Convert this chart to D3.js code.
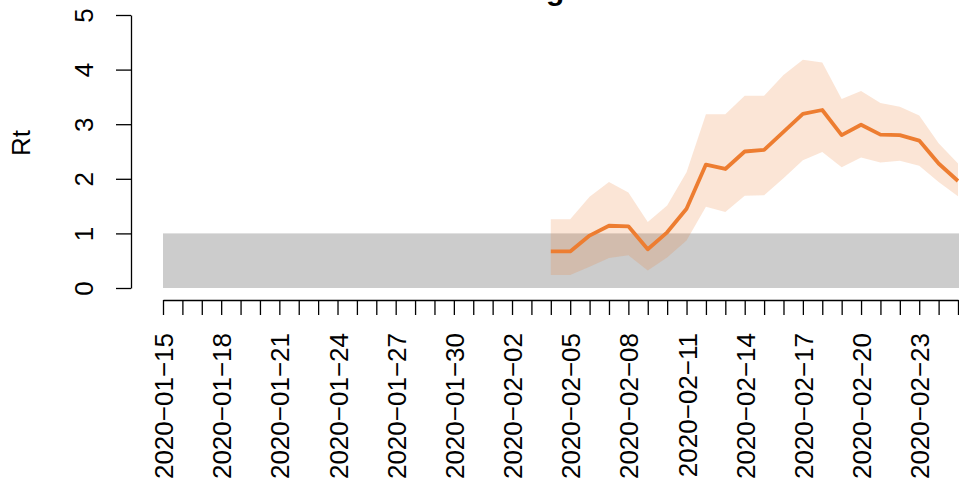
<!DOCTYPE html>
<html>
<head>
<meta charset="utf-8">
<script src="https://cdn.jsdelivr.net/npm/d3@7"></script>
<style>
  html, body { margin: 0; padding: 0; background: #fff; }
  svg { display: block; font-family: "Liberation Sans", Arial, sans-serif; }
</style>
</head>
<body>
<div id="chart"></div>
<script>
// data
var title = "Bergamo";
var yLabel = "Rt";
var xStart = "2020-01-15";
var xEnd = "2020-02-25";
var tickLabels = ["2020-01-15", "2020-01-18", "2020-01-21", "2020-01-24", "2020-01-27",
    "2020-01-30", "2020-02-02", "2020-02-05", "2020-02-08", "2020-02-11",
    "2020-02-14", "2020-02-17", "2020-02-20", "2020-02-23"];
var yTicks = [0, 1, 2, 3, 4, 5];
var threshold = [0, 1];

var rtDates = ["2020-02-04", "2020-02-05", "2020-02-06", "2020-02-07", "2020-02-08",
    "2020-02-09", "2020-02-10", "2020-02-11", "2020-02-12", "2020-02-13",
    "2020-02-14", "2020-02-15", "2020-02-16", "2020-02-17", "2020-02-18",
    "2020-02-19", "2020-02-20", "2020-02-21", "2020-02-22", "2020-02-23",
    "2020-02-24", "2020-02-25"];
var rtMean = [0.67, 0.67, 0.96, 1.14, 1.13, 0.71, 1.02, 1.45, 2.26, 2.18, 2.50,
    2.53, 2.86, 3.19, 3.26, 2.80, 2.99, 2.81, 2.80, 2.70, 2.28, 1.96];
var rtUpper = [1.26, 1.26, 1.67, 1.94, 1.75, 1.21, 1.51, 2.12, 3.18, 3.18, 3.52,
    3.52, 3.90, 4.18, 4.13, 3.46, 3.61, 3.39, 3.32, 3.16, 2.65, 2.28];
var rtLower = [0.24, 0.24, 0.39, 0.55, 0.60, 0.32, 0.56, 0.87, 1.49, 1.39, 1.69,
    1.70, 2.01, 2.34, 2.49, 2.21, 2.39, 2.30, 2.33, 2.24, 1.94, 1.68];

var width = 959, height = 485;
var parse = d3.utcParse("%Y-%m-%d");
var fmt = d3.utcFormat("%Y-%m-%d");
var orange = "#ED7D31";
var fontSize = 26;

var svg = d3.select("#chart")
    .append("svg")
    .attr("width", width)
    .attr("height", height);

var x = d3.scaleUtc()
    .domain([parse(xStart), parse(xEnd)])
    .range([163, 958]);

var y = d3.scaleLinear()
    .domain([0, 5])
    .range([288, 15]);

var rows = rtDates.map(function (d, i) {
    return { date: parse(d), mean: rtMean[i], lo: rtLower[i], hi: rtUpper[i] };
});

// grey band for Rt < 1
svg.append("rect")
    .attr("x", x(parse(xStart)))
    .attr("y", y(threshold[1]))
    .attr("width", width - x(parse(xStart)))
    .attr("height", y(threshold[0]) - y(threshold[1]))
    .attr("fill", "#cccccc");

// credible interval
var area = d3.area()
    .x(function (d) { return x(d.date); })
    .y0(function (d) { return y(d.lo); })
    .y1(function (d) { return y(d.hi); });

svg.append("path")
    .datum(rows)
    .attr("d", area)
    .attr("fill", orange)
    .attr("fill-opacity", 0.2);

var line = d3.line()
    .x(function (d) { return x(d.date); })
    .y(function (d) { return y(d.mean); });

svg.append("path")
    .datum(rows)
    .attr("d", line)
    .attr("fill", "none")
    .attr("stroke", orange)
    .attr("stroke-width", 3.8)
    .attr("stroke-linejoin", "round");

// y axis
var yAxis = svg.append("g")
    .attr("transform", "translate(131,0)")
    .call(d3.axisLeft(y)
        .tickValues(yTicks)
        .tickSize(15)
        .tickSizeOuter(0)
        .tickFormat(d3.format("d")));

yAxis.select(".domain").attr("stroke-width", 1.3);
yAxis.selectAll(".tick line").attr("stroke-width", 1.3);
yAxis.selectAll(".tick text")
    .attr("x", null)
    .attr("dy", null)
    .attr("text-anchor", "middle")
    .attr("transform", "translate(-38,0) rotate(-90)")
    .attr("font-size", fontSize)
    .attr("fill", "#000");

// x axis, one tick per day, label every 3 days
var days = d3.utcDay.range(parse(xStart), d3.utcDay.offset(parse(xEnd), 1));

var xAxis = svg.append("g")
    .attr("transform", "translate(0,300)")
    .call(d3.axisBottom(x)
        .tickValues(days)
        .tickSize(15)
        .tickSizeOuter(0)
        .tickFormat(function (d) {
            var s = fmt(d);
            return tickLabels.indexOf(s) >= 0 ? s.replace(/-/g, "\u2212") : "";
        }));

xAxis.select(".domain").attr("stroke-width", 1.3);
xAxis.selectAll(".tick line").attr("stroke-width", 1.3);
xAxis.selectAll(".tick text")
    .attr("y", null)
    .attr("dy", null)
    .attr("text-anchor", "end")
    .attr("transform", "translate(9.5,33) rotate(-90)")
    .attr("font-size", fontSize)
    .attr("fill", "#000");

// y axis title
svg.append("text")
    .attr("transform", "translate(30,143) rotate(-90)")
    .attr("text-anchor", "middle")
    .attr("font-size", fontSize)
    .text(yLabel);

// main title, mostly above the cropped top edge
svg.append("text")
    .attr("x", 561)
    .attr("y", 0)
    .attr("text-anchor", "middle")
    .attr("font-size", 30)
    .attr("font-weight", "bold")
    .text(title);
</script>
</body>
</html>
